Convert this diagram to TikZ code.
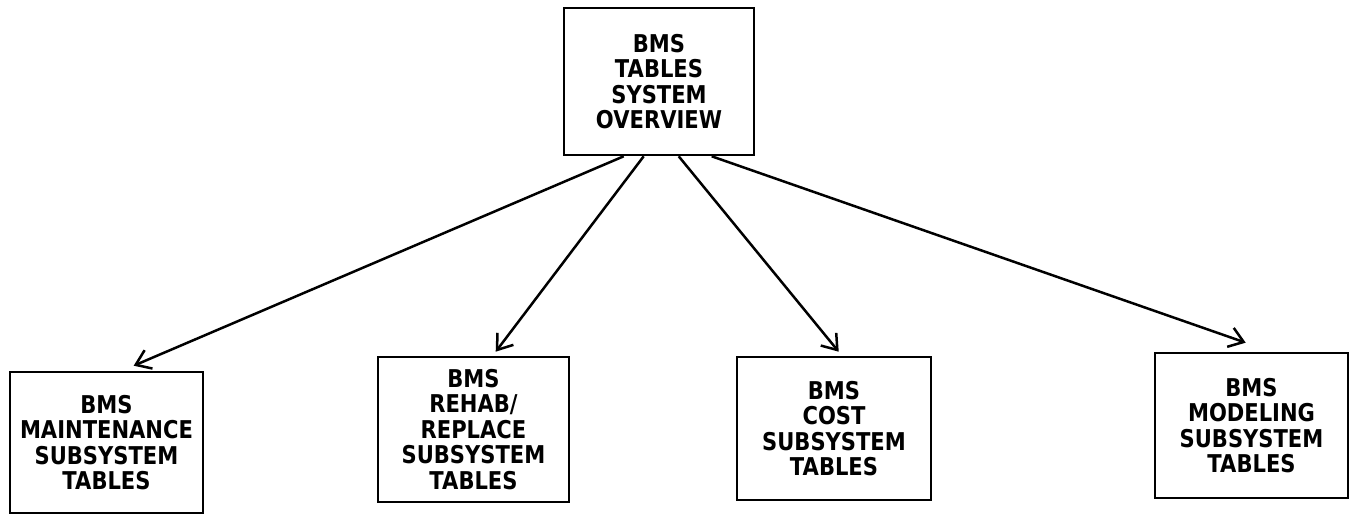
\documentclass[tikz,border=0pt]{standalone}
\usepackage{fontspec}
\setmainfont{DejaVu Sans}[BoldFont={DejaVu Sans Bold}]
\newfontfamily\boxfont{DejaVu Sans Bold}[FakeStretch=0.86]
\usetikzlibrary{arrows.meta,calc}
\begin{document}
\begin{tikzpicture}[x=1pt,y=1pt,
  tablebox/.style={draw,line width=2.6pt,rectangle,inner sep=0pt,align=center,
    font=\boxfont\fontsize{24.5}{25.5}\selectfont},
  link/.style={line width=2.5pt,-{Straight Barb[length=14pt,width=20pt,line width=2.5pt]}}]
\useasboundingbox (0,0) rectangle (1354,516);
% top-level overview box
\node[tablebox,minimum width=190pt,minimum height=147pt] (top) at (659,434.5)
  {BMS\\TABLES\\SYSTEM\\OVERVIEW};
% subsystem boxes
\node[tablebox,minimum width=193pt,minimum height=141pt] (maint) at (106.5,73.5)
  {BMS\\MAINTENANCE\\SUBSYSTEM\\TABLES};
\node[tablebox,minimum width=191pt,minimum height=145pt] (rehab) at (473.5,86.5)
  {BMS\\REHAB/\\REPLACE\\SUBSYSTEM\\TABLES};
\node[tablebox,minimum width=194pt,minimum height=143pt] (cost) at (834,87.5)
  {BMS\\COST\\SUBSYSTEM\\TABLES};
\node[tablebox,minimum width=193pt,minimum height=145pt] (model) at (1251.5,90.5)
  {BMS\\MODELING\\SUBSYSTEM\\TABLES};
% connectors
\draw[link] ($(top.south west)+(61,0)$) -- ($(maint.north west)+(125,5)$);
\draw[link] ($(top.south west)+(81,0)$) -- ($(rehab.north west)+(119,4)$);
\draw[link] ($(top.south west)+(116,0)$) -- ($(cost.north west)+(103,4)$);
\draw[link] ($(top.south west)+(149,0)$) -- ($(model.north west)+(92,9)$);
\end{tikzpicture}
\end{document}
